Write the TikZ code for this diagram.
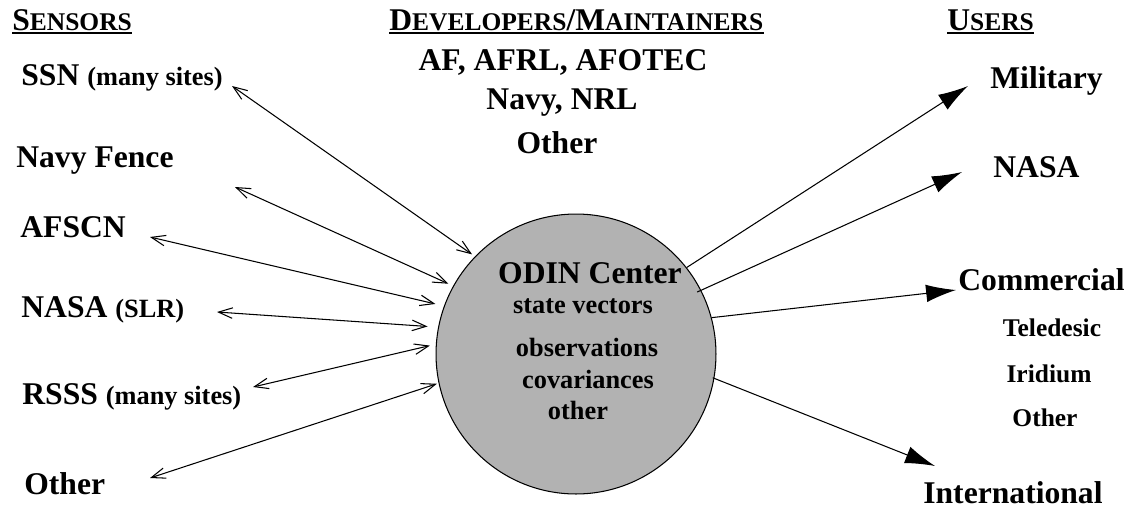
\documentclass[tikz,border=0pt]{standalone}
\usepackage{fontspec}
\setmainfont{Liberation Serif}
\usetikzlibrary{arrows.meta}
\newcommand{\bigf}{\fontsize{18}{20}\selectfont}
\newcommand{\smallf}{\fontsize{15}{17}\selectfont}
\newcommand{\tinyf}{\fontsize{14.5}{16}\selectfont}
\newcommand{\hsc}[2]{{\bigf #1}{\fontsize{14.5}{16}\selectfont #2}}

\begin{document}
\begin{tikzpicture}[x=0.02cm,y=-0.02cm]
  \useasboundingbox (0,0) rectangle (1134,508);
  \tikzstyle{every node}=[inner sep=0pt,font=\bfseries\bigf]
  \tikzstyle{every edge}=[draw,line width=0.6pt]
  \tikzstyle{twoway}=[{Straight Barb[length=8pt,width=6pt]}-{Straight Barb[length=8pt,width=6pt]}]
  \tikzstyle{oneway}=[-{Latex[length=17pt,width=10pt]}]
  \tikzstyle{hline}=[line width=1.1pt]

  % en-tetes
  \node[anchor=base west] (sens) at (12,30) {\hsc{S}{ENSORS}};
  \node[anchor=base west] (dev) at (389,30) {\hsc{D}{EVELOPERS}/\hsc{M}{AINTAINERS}};
  \node[anchor=base west] (usr) at (947,30) {\hsc{U}{SERS}};
  \foreach \n in {sens,dev,usr}{
    \draw[hline] ([yshift=-1.8pt]\n.base west) -- ([yshift=-1.8pt]\n.base east);
  }

  % developpeurs
  \node[anchor=base] (dev1) at (563,70) {AF, AFRL, AFOTEC};
  \node[anchor=base] (dev2) at (562,109) {Navy, NRL};
  \node[anchor=base] (dev3) at (557,153) {Other};

  % centre
  \node[circle,draw,fill=gray!60,line width=0.6pt,minimum size=5.6cm] (odin) at (576,354) {};
  \node[anchor=base] (odinT) at (590,283) {ODIN Center};
  \node[anchor=base,font=\bfseries\smallf] (sv) at (583,313) {state vectors};
  \node[anchor=base,font=\bfseries\smallf] (obs) at (587,356) {observations};
  \node[anchor=base,font=\bfseries\smallf] (cov) at (588,388) {covariances};
  \node[anchor=base,font=\bfseries\smallf] (oth) at (578,419) {other};

  % capteurs
  \node[anchor=base west] (sSSN) at (21,85) {SSN {\smallf (many sites)}};
  \node[anchor=base west] (sFence) at (16,167) {Navy Fence};
  \node[anchor=base west] (sAFSCN) at (20,237) {AFSCN};
  \node[anchor=base west] (sNASA) at (21,317) {NASA {\smallf (SLR)}};
  \node[anchor=base west] (sRSSS) at (22,404) {RSSS {\smallf (many sites)}};
  \node[anchor=base west] (sOther) at (24,494) {Other};

  \foreach \n/\x/\y/\ang/\gap in {ssn/232/86/136/2pt, fence/235/187/151/3pt,
    afscn/150/237/160/5pt, nasa/217/312/169/6pt, rsss/253/387/176/3.5pt,
    other/150/478/192/1pt}{
    \coordinate (\n-end) at (\x,\y);
    \path (\n-end) edge[twoway,shorten >=\gap] (odin.\ang);
  }

  % utilisateurs
  \node[anchor=base west] (uMil) at (990,88) {Military};
  \node[anchor=base west] (uNASA) at (993,177) {NASA};
  \node[anchor=base west] (uCom) at (958,290) {Commercial};
  \node[anchor=base,font=\bfseries\tinyf] (uTel) at (1052,336) {Teledesic};
  \node[anchor=base,font=\bfseries\tinyf] (uIri) at (1049,382) {Iridium};
  \node[anchor=base,font=\bfseries\tinyf] (uOth) at (1045,426) {Other};
  \node[anchor=base west] (uInt) at (923,503) {International};

  \foreach \n/\x/\y/\ang/\gap in {mil/968/86/38/0pt, nasa/962/172/27/-2.5pt,
    com/956/290/15/0pt, intl/935/466/-10/-1pt}{
    \coordinate (\n-tip) at (\x,\y);
    \path (odin.\ang) edge[oneway,shorten <=\gap] (\n-tip);
  }
\end{tikzpicture}
\end{document}
